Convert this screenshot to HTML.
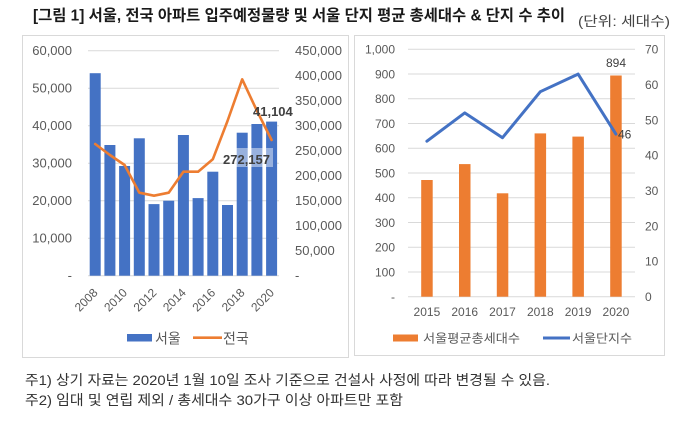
<!DOCTYPE html>
<html><head><meta charset="utf-8"><style>
html,body{margin:0;padding:0;background:#fff;}
svg{display:block;}
text{font-family:"Liberation Sans","Noto Sans CJK KR",sans-serif;}
.k{font-family:"Liberation Sans","Noto Sans CJK KR",sans-serif;}
.t{fill:#595959;font-size:13px;}
.t2{fill:#595959;font-size:12px;}
</style></head><body>
<svg width="680" height="421" viewBox="0 0 680 421" xmlns="http://www.w3.org/2000/svg">
<rect width="680" height="421" fill="#fff"/>
<!-- Title -->
<text x="33" y="20.5" font-size="15.5" font-weight="bold" fill="#1a1a1a" textLength="532" lengthAdjust="spacingAndGlyphs">[그림 1] 서울, 전국 아파트 입주예정물량 및 서울 단지 평균 총세대수 &amp; 단지 수 추이</text>
<text x="578" y="26" font-size="13.5" fill="#444" textLength="92" lengthAdjust="spacingAndGlyphs">(단위: 세대수)</text>

<!-- Panels -->
<rect x="22.5" y="35.5" width="326" height="322" fill="#fff" stroke="#D9D9D9"/>
<rect x="354.5" y="35.5" width="310" height="320" fill="#fff" stroke="#D9D9D9"/>

<!-- LEFT CHART gridlines -->
<g stroke="#D9D9D9" stroke-width="1">
<line x1="88" x2="279" y1="50.7" y2="50.7"/>
<line x1="88" x2="279" y1="88.2" y2="88.2"/>
<line x1="88" x2="279" y1="125.7" y2="125.7"/>
<line x1="88" x2="279" y1="163.2" y2="163.2"/>
<line x1="88" x2="279" y1="200.7" y2="200.7"/>
<line x1="88" x2="279" y1="238.2" y2="238.2"/>
<line x1="88" x2="279" y1="275.7" y2="275.7"/>
</g>
<!-- left axis labels -->
<g class="t" text-anchor="end">
<text x="72" y="55.2">60,000</text>
<text x="72" y="92.7">50,000</text>
<text x="72" y="130.2">40,000</text>
<text x="72" y="167.7">30,000</text>
<text x="72" y="205.2">20,000</text>
<text x="72" y="242.7">10,000</text>
<text x="72" y="280.2">-</text>
</g>
<g class="t">
<text x="295" y="55.2">450,000</text>
<text x="295" y="80.2">400,000</text>
<text x="295" y="105.2">350,000</text>
<text x="295" y="130.2">300,000</text>
<text x="295" y="155.2">250,000</text>
<text x="295" y="180.2">200,000</text>
<text x="295" y="205.2">150,000</text>
<text x="295" y="230.2">100,000</text>
<text x="295" y="255.2">50,000</text>
<text x="295" y="280.2">-</text>
</g>
<!-- bars -->
<g fill="#4472C4">
<rect x="89.7" y="73.2" width="11" height="202.5"/>
<rect x="104.4" y="145.0" width="11" height="130.7"/>
<rect x="119.1" y="166.0" width="11" height="109.7"/>
<rect x="133.8" y="138.3" width="11" height="137.4"/>
<rect x="148.5" y="204.1" width="11" height="71.6"/>
<rect x="163.2" y="200.7" width="11" height="75.0"/>
<rect x="177.9" y="135.0" width="11" height="140.7"/>
<rect x="192.6" y="198.1" width="11" height="77.6"/>
<rect x="207.3" y="171.7" width="11" height="104.0"/>
<rect x="222.0" y="205.0" width="11" height="70.7"/>
<rect x="236.7" y="132.7" width="11" height="143.0"/>
<rect x="251.4" y="124.0" width="11" height="151.7"/>
<rect x="266.1" y="121.6" width="11" height="154.1"/>
</g>
<!-- national line -->
<polyline fill="none" stroke="#ED7D31" stroke-width="2.6" stroke-linejoin="round" stroke-linecap="round"
points="95.2,144 109.9,155 124.6,165 139.3,192.7 154.0,195.7 168.7,192.7 183.4,171.7 198.1,171.7 212.8,159.3 227.5,121 242.2,79.3 256.9,110.7 271.6,140"/>
<!-- data labels -->
<rect x="235" y="148" width="38" height="19" fill="#fff" fill-opacity="0.45"/>
<text x="223" y="164" font-size="13" font-weight="bold" fill="#404040">272,157</text>
<text x="253" y="116" font-size="13" font-weight="bold" fill="#404040">41,104</text>
<!-- x labels rotated -->
<g class="t2" text-anchor="end">
<text transform="translate(98.5,293.4) rotate(-45)">2008</text>
<text transform="translate(127.9,293.4) rotate(-45)">2010</text>
<text transform="translate(157.3,293.4) rotate(-45)">2012</text>
<text transform="translate(186.7,293.4) rotate(-45)">2014</text>
<text transform="translate(216.1,293.4) rotate(-45)">2016</text>
<text transform="translate(245.5,293.4) rotate(-45)">2018</text>
<text transform="translate(274.9,293.4) rotate(-45)">2020</text>
</g>
<!-- legend left -->
<rect x="127" y="334" width="25" height="7.5" fill="#4472C4"/>
<text x="155" y="343.5" font-size="14" fill="#595959">서울</text>
<line x1="193" x2="222" y1="337.7" y2="337.7" stroke="#ED7D31" stroke-width="2.6"/>
<text x="223" y="343.5" font-size="14" fill="#595959">전국</text>

<!-- RIGHT CHART gridlines -->
<g stroke="#D9D9D9" stroke-width="1">
<line x1="408" x2="635" y1="49.3" y2="49.3"/>
<line x1="408" x2="635" y1="74.0" y2="74.0"/>
<line x1="408" x2="635" y1="98.8" y2="98.8"/>
<line x1="408" x2="635" y1="123.5" y2="123.5"/>
<line x1="408" x2="635" y1="148.3" y2="148.3"/>
<line x1="408" x2="635" y1="173.0" y2="173.0"/>
<line x1="408" x2="635" y1="197.7" y2="197.7"/>
<line x1="408" x2="635" y1="222.5" y2="222.5"/>
<line x1="408" x2="635" y1="247.2" y2="247.2"/>
<line x1="408" x2="635" y1="272.0" y2="272.0"/>
<line x1="408" x2="635" y1="296.7" y2="296.7"/>
</g>
<g class="t2" text-anchor="end">
<text x="395" y="53.6">1,000</text>
<text x="395" y="78.3">900</text>
<text x="395" y="103.1">800</text>
<text x="395" y="127.8">700</text>
<text x="395" y="152.6">600</text>
<text x="395" y="177.3">500</text>
<text x="395" y="202.0">400</text>
<text x="395" y="226.8">300</text>
<text x="395" y="251.5">200</text>
<text x="395" y="276.3">100</text>
<text x="395" y="301.0">-</text>
</g>
<g class="t2">
<text x="645" y="53.6">70</text>
<text x="645" y="89.0">60</text>
<text x="645" y="124.3">50</text>
<text x="645" y="159.6">40</text>
<text x="645" y="195.0">30</text>
<text x="645" y="230.3">20</text>
<text x="645" y="265.7">10</text>
<text x="645" y="301.0">0</text>
</g>
<g fill="#ED7D31">
<rect x="421.2" y="180.0" width="11.5" height="116.7"/>
<rect x="459.0" y="164.1" width="11.5" height="132.6"/>
<rect x="496.8" y="193.3" width="11.5" height="103.4"/>
<rect x="534.6" y="133.4" width="11.5" height="163.3"/>
<rect x="572.4" y="136.6" width="11.5" height="160.1"/>
<rect x="610.2" y="75.5" width="11.5" height="221.2"/>
</g>
<polyline fill="none" stroke="#4472C4" stroke-width="3" stroke-linejoin="round" stroke-linecap="round"
points="426.9,141.2 464.7,112.9 502.5,137.7 540.3,91.7 578.1,74.1 615.9,134.1"/>
<text x="616" y="67" font-size="12" fill="#404040" text-anchor="middle">894</text>
<text x="618" y="138.5" font-size="12" fill="#404040">46</text>
<g class="t2" text-anchor="middle">
<text x="426.9" y="316">2015</text>
<text x="464.7" y="316">2016</text>
<text x="502.5" y="316">2017</text>
<text x="540.3" y="316">2018</text>
<text x="578.1" y="316">2019</text>
<text x="615.9" y="316">2020</text>
</g>
<rect x="393" y="334.5" width="25" height="7" fill="#ED7D31"/>
<text x="423" y="342.5" font-size="12" fill="#595959" textLength="97" lengthAdjust="spacingAndGlyphs">서울평균총세대수</text>
<line x1="543" x2="570" y1="338" y2="338" stroke="#4472C4" stroke-width="3"/>
<text x="572" y="342.5" font-size="12" fill="#595959" textLength="60" lengthAdjust="spacingAndGlyphs">서울단지수</text>

<!-- Footnotes -->
<text x="25" y="385" font-size="14" fill="#333" textLength="525" lengthAdjust="spacingAndGlyphs">주1) 상기 자료는 2020년 1월 10일 조사 기준으로 건설사 사정에 따라 변경될 수 있음.</text>
<text x="25" y="405" font-size="14" fill="#333" textLength="378" lengthAdjust="spacingAndGlyphs">주2) 임대 및 연립 제외 / 총세대수 30가구 이상 아파트만 포함</text>
</svg>
</body></html>
